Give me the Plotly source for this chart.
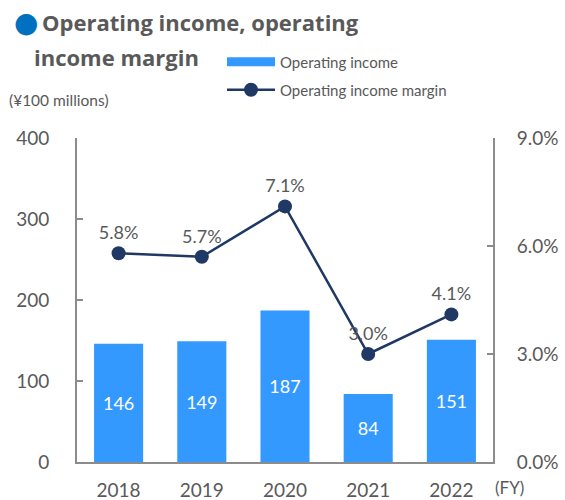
import plotly.graph_objects as go

years = ["2018", "2019", "2020", "2021", "2022"]
income = [146, 149, 187, 84, 151]
margin = [5.8, 5.7, 7.1, 3.0, 4.1]
left_ticks = [0, 100, 200, 300, 400]
right_ticks = [0, 3, 6, 9]
right_labels = ["0.0%", "3.0%", "6.0%", "9.0%"]

GRAY = "#595959"
AXIS = "#8C8C8C"
BAR = "#3399FF"
LINE = "#1F3864"
FONT = "Lato, 'Open Sans', sans-serif"
TFONT = "'Open Sans', sans-serif"

fig = go.Figure()
fig.add_trace(go.Bar(
    x=years, y=income, name="Operating income",
    marker=dict(color=BAR, line=dict(width=0)),
    width=0.59,
    text=[str(v) for v in income], textposition="inside",
    insidetextanchor="middle",
    textfont=dict(color="white", size=18, family=FONT),
    yaxis="y", showlegend=False,
))
# legend-only entry to show a wide flat swatch for the bars
fig.add_trace(go.Scatter(
    x=[None], y=[None], name="Operating income", mode="lines",
    line=dict(color=BAR, width=9), yaxis="y", legend="legend",
    hoverinfo="skip",
))
fig.add_trace(go.Scatter(
    x=years, y=margin, name="Operating income margin",
    mode="lines+markers+text",
    line=dict(color=LINE, width=2.5),
    marker=dict(color=LINE, size=14),
    text=[f"{v:.1f}%" for v in margin], textposition="top center",
    textfont=dict(color=GRAY, size=18, family=FONT),
    yaxis="y2", legend="legend2",
))

leg_common = dict(xanchor="left", yanchor="middle", xref="container", yref="container",
                  font=dict(size=15, color=GRAY, family=FONT),
                  bgcolor="rgba(0,0,0,0)", itemwidth=48)

fig.update_layout(
    width=565, height=500,
    margin=dict(l=77, r=72, t=138, b=38, autoexpand=False),
    plot_bgcolor="white", paper_bgcolor="white",
    font=dict(family=FONT, color=GRAY),
    showlegend=True,
    legend=dict(x=222 / 565, y=1 - 62 / 500, **leg_common),
    legend2=dict(x=222 / 565, y=1 - 90 / 500, **leg_common),
    xaxis=dict(showline=True, linecolor=AXIS, linewidth=2, ticks="",
               tickfont=dict(size=19, color=GRAY), showgrid=False,
               ticklabelstandoff=10, automargin=False),
    yaxis=dict(range=[0, 400], tickvals=left_ticks, showline=True,
               linecolor=AXIS, linewidth=2, ticks="inside", ticklen=6,
               tickcolor=AXIS, tickwidth=2, showgrid=False, zeroline=False,
               tickfont=dict(size=19, color=GRAY), ticklabelstandoff=22,
               automargin=False),
    yaxis2=dict(range=[0, 9], tickvals=right_ticks, ticktext=right_labels,
                overlaying="y", side="right", showline=True, linecolor=AXIS,
                linewidth=2, ticks="inside", ticklen=6, tickcolor=AXIS,
                tickwidth=2, showgrid=False, zeroline=False,
                tickfont=dict(size=19, color=GRAY), ticklabelstandoff=18,
                automargin=False),
)

fig.add_annotation(xref="paper", yref="paper", x=-0.122, y=1.358, xanchor="center",
                   yanchor="middle", text="●", showarrow=False,
                   font=dict(size=28, color="#0070C0", family="DejaVu Sans"))
fig.add_annotation(xref="paper", yref="paper", x=-0.0889, y=1.358, xanchor="left",
                   yanchor="middle", align="left", showarrow=False,
                   text="<b>Operating income, operating</b>",
                   font=dict(size=22, color=GRAY, family=TFONT))
fig.add_annotation(xref="paper", yref="paper", x=-0.108, y=1.25, xanchor="left",
                   yanchor="middle", align="left", showarrow=False,
                   text="<b>income margin</b>",
                   font=dict(size=22, color=GRAY, family=TFONT))
fig.add_annotation(xref="paper", yref="paper", x=-0.168, y=1.117, xanchor="left",
                   yanchor="middle", showarrow=False, text="(¥100 millions)",
                   font=dict(size=15.5, color=GRAY))
fig.add_annotation(xref="paper", yref="paper", x=1.0, y=-0.078, xanchor="left",
                   yanchor="middle", showarrow=False, text="(FY)",
                   font=dict(size=17, color=GRAY))

fig.write_html("out.html", config={"displayModeBar": False},
               post_script="document.body.style.margin='0';document.body.style.overflow='hidden';")
